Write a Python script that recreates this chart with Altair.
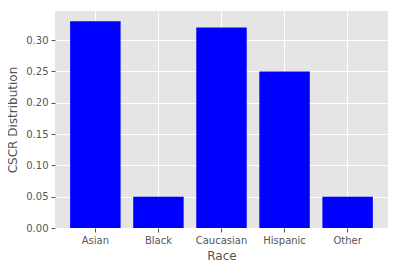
import altair as alt
import pandas as pd

races = ["Asian", "Black", "Caucasian", "Hispanic", "Other"]
values = [0.33, 0.05, 0.32, 0.25, 0.05]
y_ticks = [0.0, 0.05, 0.10, 0.15, 0.20, 0.25, 0.30]

df = pd.DataFrame({"Race": races, "CSCR Distribution": values})

chart = alt.Chart(df).mark_bar(color="#0000FF").encode(
    x=alt.X("Race:N", sort=races,
            scale=alt.Scale(paddingInner=0.2, paddingOuter=0.24),
            axis=alt.Axis(title="Race", labelAngle=0, grid=True, bandPosition=0.5,
                          titleFontSize=12, titleFontWeight="normal", titleColor="#555555",
                          titlePadding=5)),
    y=alt.Y("CSCR Distribution:Q",
            scale=alt.Scale(domain=[0, 0.3465], nice=False, zero=True),
            axis=alt.Axis(title="CSCR Distribution", values=y_ticks, format=".2f",
                          titleFontSize=12, titleFontWeight="normal", titleColor="#555555",
                          titleX=-43, titleY=108.5, titleAngle=270, titleAlign="center",
                          titleBaseline="middle")),
).properties(
    width=333, height=217,
    autosize=alt.AutoSizeParams(type="none"),
    padding={"left": 47, "top": 3, "right": 3, "bottom": 33},
    background="white",
).configure_view(
    fill="#E5E5E5", stroke=None
).configure_axis(
    domain=False, gridColor="white", gridWidth=1, gridOpacity=1,
    tickColor="#555555", tickSize=4, labelPadding=3,
    labelColor="#555555", labelFontSize=10, labelFont="DejaVu Sans",
    titleFont="DejaVu Sans",
)

chart.save("out.html", embed_options={"renderer": "svg", "actions": False})
